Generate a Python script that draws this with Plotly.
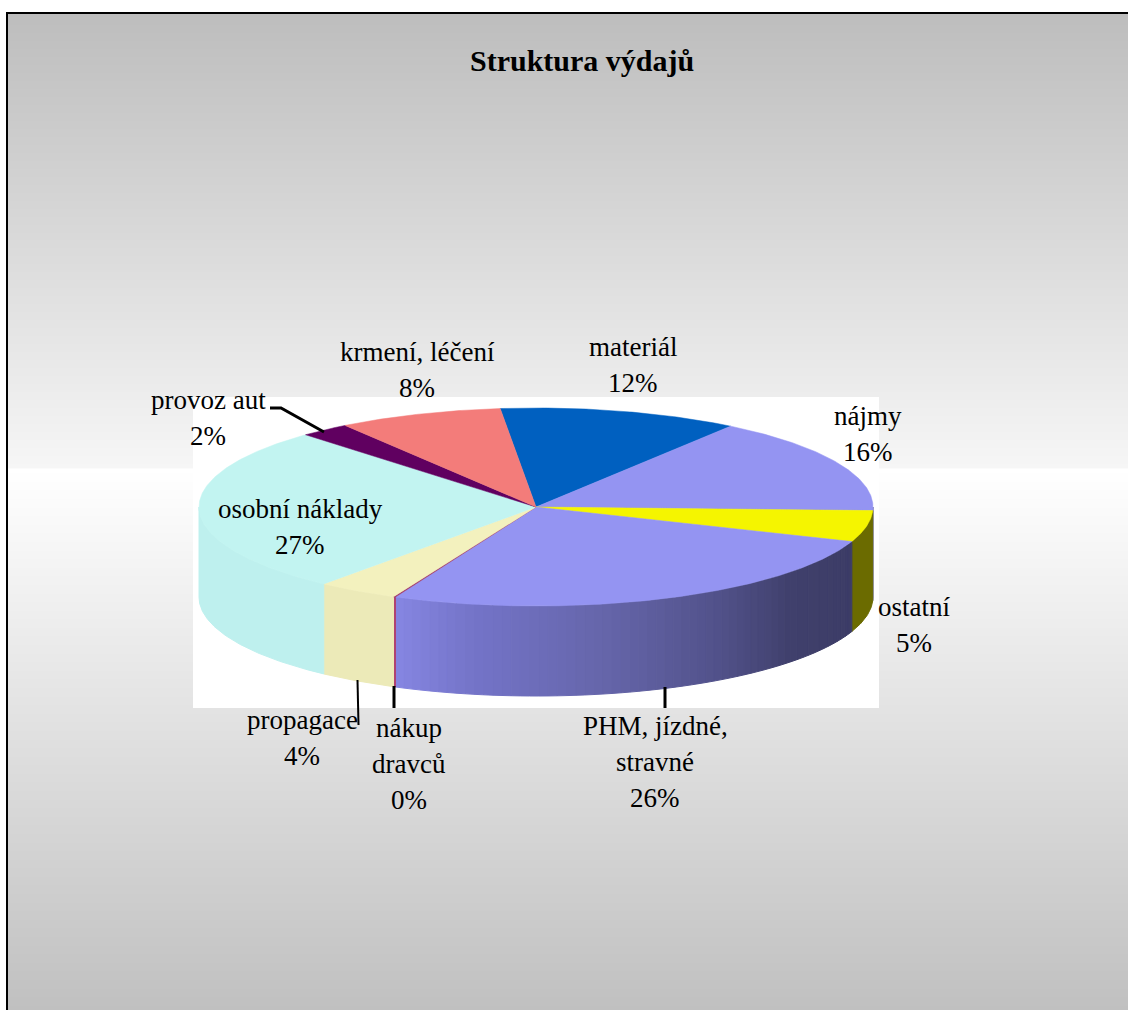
import plotly.graph_objects as go
import math

# --- data ---
categories = ["materiál", "nájmy", "ostatní", "PHM, jízdné,<br>stravné", "nákup<br>dravců",
              "propagace", "osobní náklady", "provoz aut", "krmení, léčení"]
values = [11.5, 15.8, 5.1, 26.2, 0.1, 3.9, 27.2, 2.4, 7.9]
top_colors = ["#0060C0", "#9494F2", "#F5F500", "#9494F2", "#A03868", "#F3F1BE", "#C2F4F1", "#600060", "#F37C7A"]
side_colors = ["#004890", "#6E6EB4", "#6B6B00", None, "#B04070", "#ECEAB8", "#BEF0EE", "#480048", "#B65C5A"]
label_x = [633, 868, 914, 655, 409, 302, 300, 208, 417]
label_y = [365, 434, 625, 762, 764, 738, 527, 418, 370]
title_text = "Struktura výdajů"

# gradient of the PHM rim, light (west end) to dark (east end)
phm_stops = [(0.0, (0x86, 0x86, 0xE2)), (0.15, (0x74, 0x74, 0xC8)), (0.4, (0x64, 0x64, 0xA8)),
             (0.62, (0x50, 0x50, 0x88)), (0.78, (0x40, 0x40, 0x6C)), (1.0, (0x3C, 0x3C, 0x66))]
# background grey levels by pixel row
bg_stops = [(13, 189), (468, 246), (469, 255), (1010, 192)]

# leader lines (x list, y list, width)
leaders = [([270, 281, 324], [408, 408, 432], 3),
           ([357.5, 358.5], [680, 725], 2),
           ([394, 394], [686, 708], 3),
           ([665, 665], [687, 708], 3)]

# --- geometry ---
W, H = 1128, 1010
CX, CY, RX, RY, DEPTH = 536, 507, 337, 99, 90
START = -6.1  # clockwise from north
LINE_H = 36


def pt(a, dy=0):
    r = math.radians(a)
    return CX + RX * math.sin(r), CY - RY * math.cos(r) + dy


def arc(a0, a1, dy=0, step=0.5):
    n = max(2, int(abs(a1 - a0) / step) + 1)
    return [pt(a0 + (a1 - a0) * i / (n - 1), dy) for i in range(n)]


def poly(points, color, lw=1):
    return go.Scatter(x=[p[0] for p in points] + [points[0][0]], y=[p[1] for p in points] + [points[0][1]],
                      mode="lines", fill="toself", fillcolor=color, line=dict(color=color, width=lw),
                      hoverinfo="skip", showlegend=False)


def lerp_color(t):
    for (t0, c0), (t1, c1) in zip(phm_stops, phm_stops[1:]):
        if t <= t1:
            f = (t - t0) / (t1 - t0)
            return "rgb(%d,%d,%d)" % tuple(round(a + (b - a) * f) for a, b in zip(c0, c1))
    return "rgb(60,60,102)"


def side(a0, a1):
    return arc(a0, a1) + arc(a1, a0, DEPTH)


def grey(y):
    if y < bg_stops[0][0]:
        return bg_stops[0][1]
    for (y0, g0), (y1, g1) in zip(bg_stops, bg_stops[1:]):
        if y <= y1:
            return g0 + (g1 - g0) * (y - y0) / (y1 - y0)
    return bg_stops[-1][1]


fig = go.Figure()

# background gradient, one row per pixel (edges given for x and y)
rows = list(range(13, H + 1))
fig.add_trace(go.Heatmap(x=[8, W], y=rows, z=[[grey(y + .5)] for y in rows[:-1]], zmin=0, zmax=255,
                         colorscale=[[0, "#000000"], [1, "#FFFFFF"]], showscale=False, hoverinfo="skip"))
# white plot panel
fig.add_trace(poly([(193, 397), (879, 397), (879, 708), (193, 708)], "#FFFFFF", 0))

# spans
total = sum(values)
spans = []
a = START
for v in values:
    b = a + 360 * v / total
    spans.append((a, b))
    a = b

# rim faces (visible where the arc faces front: 90..270 clockwise from north)
for (a0, a1), col in zip(spans, side_colors):
    lo, hi = max(a0, 90), min(a1, 270)
    if hi <= lo:
        continue
    if col is None:
        n = 60
        for i in range(n):
            s0 = hi + (lo - hi) * i / n
            s1 = hi + (lo - hi) * (i + 1) / n
            fig.add_trace(poly(side(s0, s1), lerp_color((i + .5) / n)))
    else:
        fig.add_trace(poly(side(lo, hi), col))

# top faces
for (a0, a1), col in zip(spans, top_colors):
    fig.add_trace(poly([(CX, CY)] + arc(a0, a1), col, 0.5))

# leaders
for xs, ys_, w in leaders:
    fig.add_trace(go.Scatter(x=xs, y=ys_, mode="lines", line=dict(color="black", width=w),
                             hoverinfo="skip", showlegend=False))

font = dict(family="Liberation Serif", size=27, color="black")
ann = []
for c, v, x, y in zip(categories, values, label_x, label_y):
    lines = c.split("<br>") + [f"{round(v)}%"]
    for i, line in enumerate(lines):
        ann.append(dict(x=x, y=y + (i - (len(lines) - 1) / 2) * LINE_H, text=line, showarrow=False, font=font,
                        xanchor="center", yanchor="middle"))
ann.append(dict(x=582, y=60, text=f"<b>{title_text}</b>", showarrow=False, xanchor="center", yanchor="middle",
                font=dict(family="Liberation Serif", size=30, color="black")))

shapes = [dict(type="line", x0=6, x1=W, y0=13, y1=13, line=dict(color="black", width=2), layer="above"),
          dict(type="line", x0=7, x1=7, y0=13, y1=H, line=dict(color="black", width=2), layer="above")]

fig.update_layout(width=W, height=H, margin=dict(l=0, r=0, t=0, b=0), paper_bgcolor="white", plot_bgcolor="white",
                  xaxis=dict(range=[0, W], visible=False, fixedrange=True),
                  yaxis=dict(range=[H, 0], visible=False, fixedrange=True),
                  annotations=ann, shapes=shapes, showlegend=False)
fig.write_html("out.html", config=dict(displayModeBar=False),
               post_script="document.body.style.margin='0';document.documentElement.style.overflow='hidden';")
